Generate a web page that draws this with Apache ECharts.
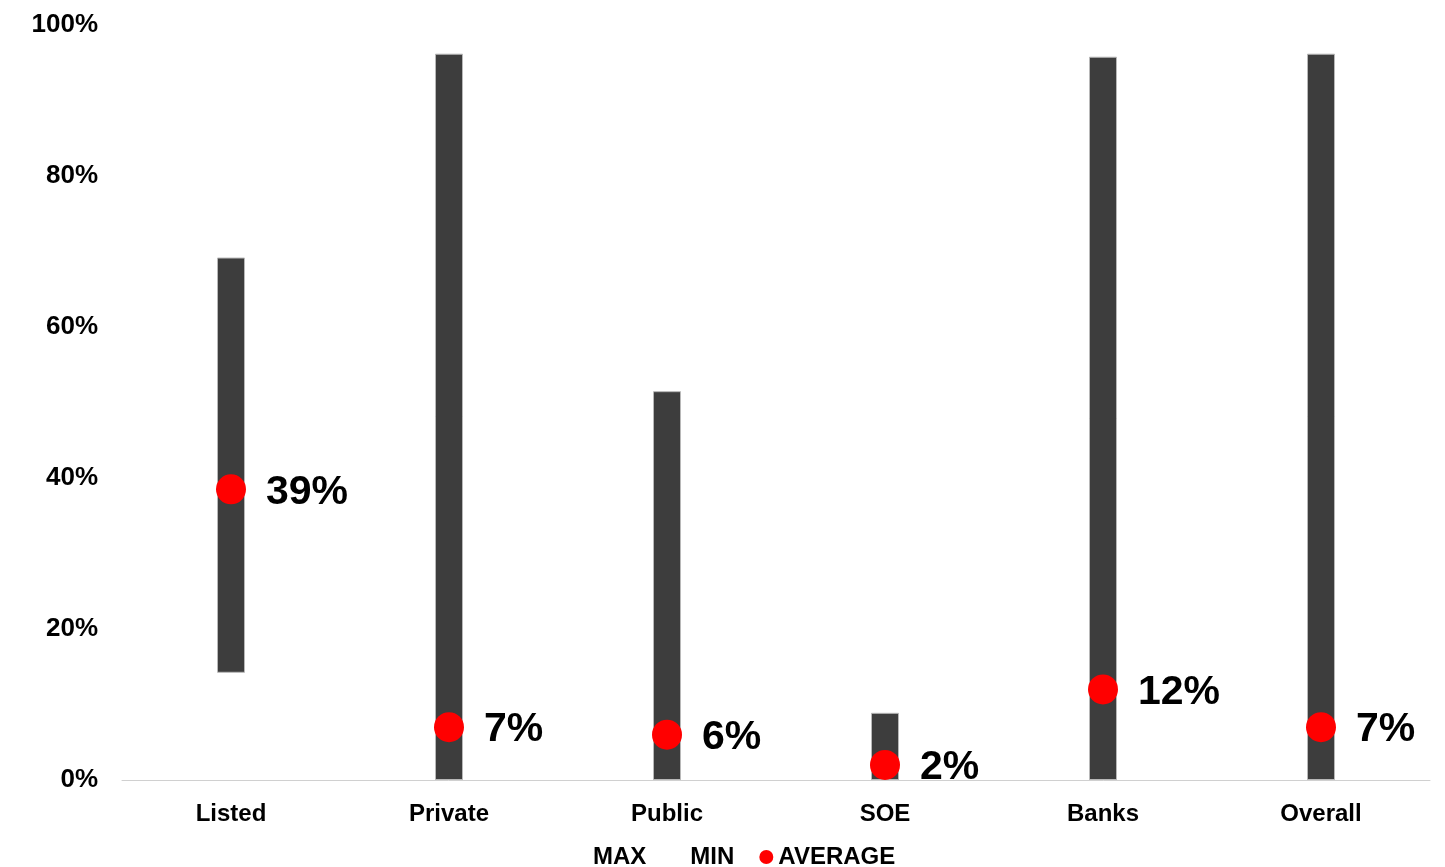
<!DOCTYPE html>
<html>
<head>
<meta charset="utf-8">
<script src="https://cdn.jsdelivr.net/npm/echarts@6/dist/echarts.min.js"></script>
<style>
html,body{margin:0;padding:0;background:#fff;}
#c{width:1445px;height:867px;}
</style>
</head>
<body>
<div id="c"></div>
<script>
const categories = ['Listed', 'Private', 'Public', 'SOE', 'Banks', 'Overall'];
const maxValues = [69.2, 96.2, 51.5, 8.9, 95.8, 96.2];
const minValues = [14.2, 0, 0, 0, 0, 0];
const avgValues = [38.5, 7, 6, 2, 12, 7];
const avgLabels = ['39%', '7%', '6%', '2%', '12%', '7%'];
const yTicks = [0, 20, 40, 60, 80, 100];

const font = 'Liberation Sans, Arial, sans-serif';
const chart = echarts.init(document.getElementById('c'));
chart.setOption({
  animation: false,
  grid: { left: 122, right: 15, top: 25, bottom: 87, containLabel: false },
  legend: {
    left: 569, top: 840,
    itemWidth: 14, itemHeight: 14, itemGap: 25,
    textStyle: { fontFamily: font, fontWeight: 'bold', fontSize: 24, color: '#000' },
    data: [
      { name: 'MAX', icon: 'rect', itemStyle: { color: 'rgba(0,0,0,0)', borderWidth: 0, opacity: 0 } },
      { name: 'MIN', icon: 'rect', itemStyle: { color: 'rgba(0,0,0,0)', borderWidth: 0, opacity: 0 } },
      { name: 'AVERAGE', icon: 'circle', itemStyle: { color: '#ff0000', opacity: 1 } }
    ]
  },
  xAxis: {
    type: 'category',
    data: categories,
    axisLine: { lineStyle: { color: '#d0d0d0', width: 1 } },
    axisTick: { show: false },
    axisLabel: { fontFamily: font, fontWeight: 'bold', fontSize: 24, color: '#000', margin: 22 }
  },
  yAxis: {
    type: 'value', min: 0, max: 100, interval: 20,
    axisLine: { show: false },
    axisTick: { show: false },
    splitLine: { show: false },
    axisLabel: {
      fontFamily: font, fontWeight: 'bold', fontSize: 26, color: '#000', margin: 24,
      formatter: v => yTicks.includes(v) ? v + '%' : ''
    }
  },
  series: [
    {
      name: 'MIN', type: 'bar', stack: 'range', barWidth: 28,
      data: minValues,
      itemStyle: { color: 'rgba(0,0,0,0)' },
      emphasis: { disabled: true }
    },
    {
      name: 'MAX', type: 'bar', stack: 'range', barWidth: 28,
      data: maxValues.map((m, i) => +(m - minValues[i]).toFixed(2)),
      itemStyle: { color: '#3d3d3d', borderColor: '#b8b8b8', borderWidth: 1 },
      emphasis: { disabled: true }
    },
    {
      name: 'AVERAGE', type: 'scatter', symbol: 'circle', symbolSize: 30,
      data: avgValues,
      itemStyle: { color: '#ff0000', opacity: 1 },
      z: 5,
      label: {
        show: true, position: 'right', distance: 20, offset: [0, 3],
        formatter: p => avgLabels[p.dataIndex],
        fontFamily: font, fontWeight: 'bold', fontSize: 41, color: '#000', opacity: 1
      }
    }
  ]
});
</script>
</body>
</html>
